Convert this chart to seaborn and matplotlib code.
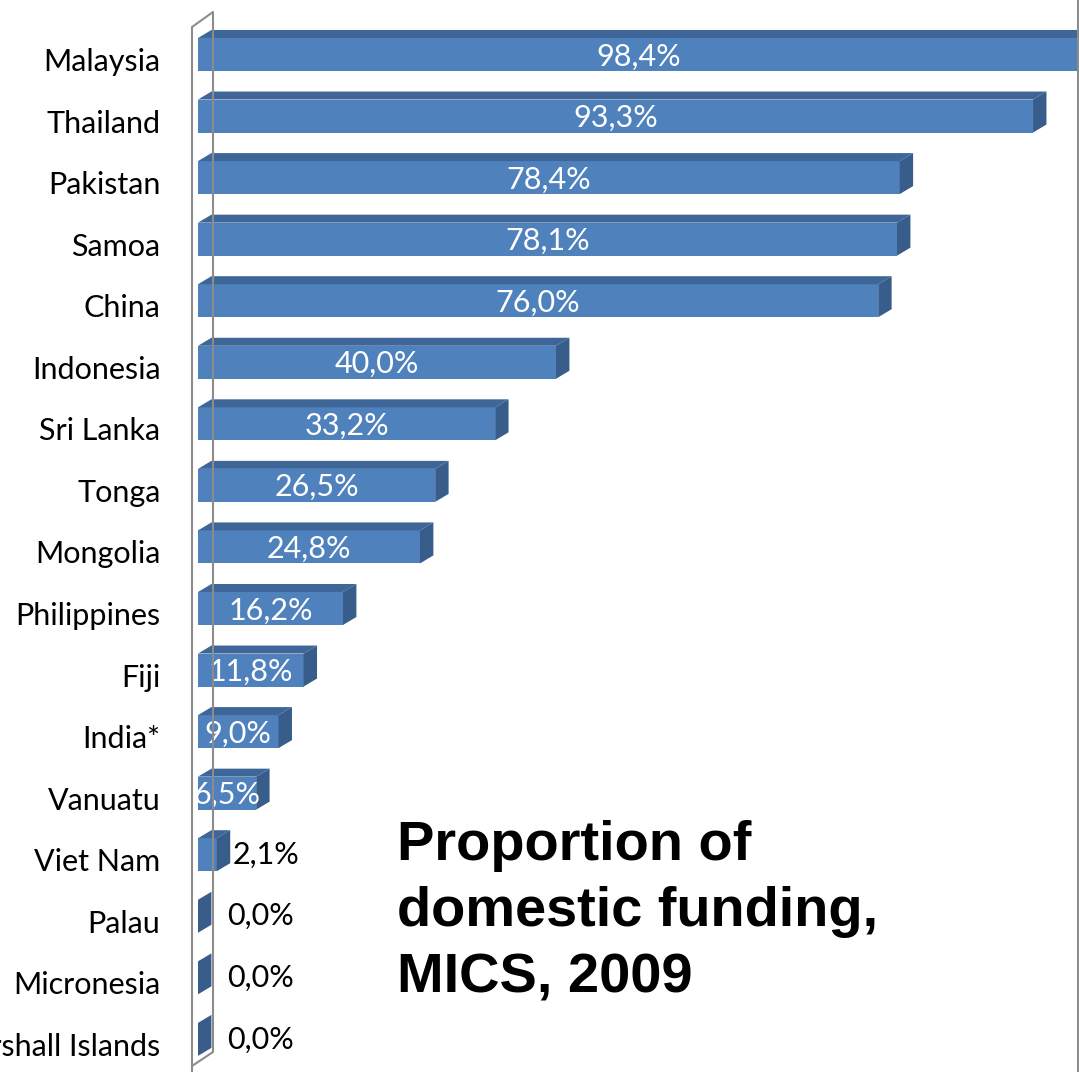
import numpy as np
import pandas as pd
import matplotlib
matplotlib.use("Agg")
import matplotlib.pyplot as plt
import matplotlib.transforms as mtransforms
from matplotlib.patches import Polygon
from matplotlib.lines import Line2D
import seaborn as sns

countries = ["Malaysia", "Thailand", "Pakistan", "Samoa", "China", "Indonesia",
             "Sri Lanka", "Tonga", "Mongolia", "Philippines", "Fiji", "India*",
             "Vanuatu", "Viet Nam", "Palau", "Micronesia", "Marshall Islands"]
share = [98.4, 93.3, 78.4, 78.1, 76.0, 40.0, 33.2, 26.5, 24.8, 16.2, 11.8,
         9.0, 6.5, 2.1, 0.0, 0.0, 0.0]
title_lines = ["Proportion of", "domestic funding,", "MICS, 2009"]

FRONT = "#4F81BD"
TOP = "#3F6698"
SIDE = "#385D8A"

W, H = 1079, 1072
sns.set_theme(style="white")
plt.rcParams["font.family"] = ["Lato", "DejaVu Sans"]

df = pd.DataFrame({"country": countries, "share": share})

fig = plt.figure(figsize=(W / 100, H / 100), dpi=100)
ax = fig.add_axes([198 / W, 0, 881 / W, 1])

sns.barplot(data=df, x="share", y="country", orient="h", color=FRONT,
            saturation=1, width=0.536, ax=ax)

ax.set_xlim(0, 881 / 8.95)
ax.set_ylim(16.53, -0.885)

# fake 3D: top and side faces
dx, dy = 1.5, 0.13
for p, v in zip(ax.patches, df["share"]):
    p.set_edgecolor("none")
    y0 = p.get_y()
    y1 = y0 + p.get_height()
    x1 = p.get_x() + p.get_width()
    top = Polygon([(0, y0), (x1, y0), (x1 + dx, y0 - dy), (dx, y0 - dy)],
                  closed=True, facecolor=TOP, edgecolor="none")
    side = Polygon([(x1, y0), (x1 + dx, y0 - dy), (x1 + dx, y1 - dy), (x1, y1)],
                   closed=True, facecolor=SIDE, edgecolor="none")
    ax.add_patch(top)
    ax.add_patch(side)
    yc = y0 + p.get_height() / 2
    lab = f"{v:.1f}%".replace(".", ",")
    if v > 5:
        ax.text(v / 2, yc + 0.03, lab, color="white", fontsize=22,
                ha="center", va="center")
    else:
        ax.text(max(v, 1.5) + dx + 0.3, yc, lab, color="black", fontsize=22,
                ha="left", va="center")

ax.set_xlabel("")
ax.set_ylabel("")
ax.set_xticks([])
sns.despine(ax=ax, left=True, bottom=True)
ax.tick_params(axis="y", length=0, pad=27, labelsize=22, labelcolor="black")
shift = mtransforms.ScaledTranslation(0, -5 / 100, fig.dpi_scale_trans)
for t in ax.get_yticklabels():
    t.set_transform(t.get_transform() + shift)


# wall outline and right border, in pixel positions
def px(xs, ys):
    return [x / W for x in xs], [1 - y / H for y in ys]


for xs, ys in [([192, 192, 213, 213, 192], [1080, 27, 12, 1052, 1066]),
               ([1078, 1078], [0, H])]:
    fx, fy = px(xs, ys)
    fig.add_artist(Line2D(fx, fy, color="#8C8C8C", lw=1.5))

fig.text(397 / W, 1 - 820 / H, "\n".join(title_lines), fontsize=40.3,
         fontweight="bold", family="Liberation Sans", color="black",
         ha="left", va="top", linespacing=1.36)

fig.savefig("out.png", dpi=100)
